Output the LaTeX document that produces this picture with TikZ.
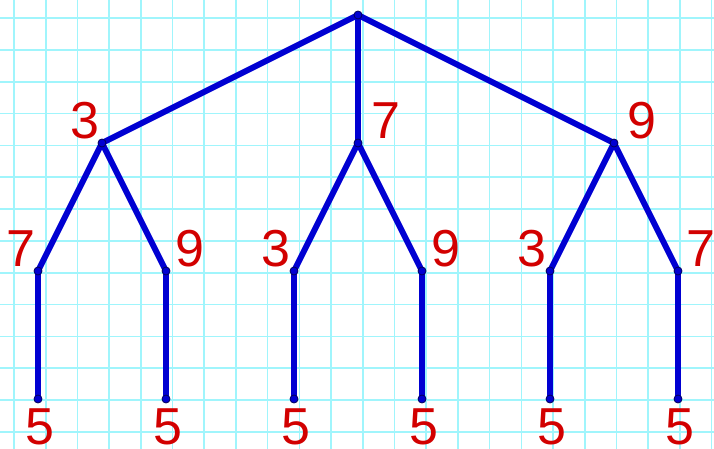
\documentclass[tikz,border=0pt]{standalone}
\usepackage{fontspec}
\setmainfont{Liberation Sans}
\usetikzlibrary{positioning}
\definecolor{gridcyan}{RGB}{160,245,252}
\definecolor{treeblue}{RGB}{0,0,210}
\definecolor{dotrim}{RGB}{0,0,90}
\definecolor{numred}{RGB}{210,0,0}
\pgfdeclarelayer{bg}
\pgfsetlayers{bg,main}

\begin{document}
\begin{tikzpicture}[x=1pt, y=-1pt,
    dot/.style={circle, fill=treeblue, draw=dotrim, line width=0.8pt,
      minimum size=8pt, inner sep=0pt},
    edge/.style={treeblue, line width=6pt, line cap=round},
    num/.style={text=numred, font=\fontsize{52}{60}\selectfont,
      anchor=base, inner sep=0pt},
  ]
  \useasboundingbox (0,0) rectangle (714,449);

  % Grid
  \begin{pgfonlayer}{bg}
    \fill[white] (0,0) rectangle (714,449);
    \foreach \i in {0,...,22} {
      \draw[gridcyan, line width=1.6pt] ({14+31.71*\i},0) -- ({14+31.71*\i},449);
    }
    \foreach \j in {0,...,13} {
      \draw[gridcyan, line width=1.6pt] (0,{18.3+31.8*\j}) -- (714,{18.3+31.8*\j});
    }
  \end{pgfonlayer}

  % Tree
  \node[dot] (root) at (358,15) {};
  \node[dot] (a) at (102,143) {};
  \node[dot] (b) at (358,143) {};
  \node[dot] (c) at (614,143) {};
  \foreach \x [count=\k] in {38,166,294,422,550,678} {
    \node[dot] (m\k) at (\x,271) {};
    \node[dot] (l\k) at (\x,399) {};
  }

  \begin{pgfonlayer}{bg}
    \foreach \u/\v in {root/a, root/b, root/c, a/m1, a/m2, b/m3, b/m4, c/m5, c/m6} {
      \draw[edge] (\u.center) -- (\v.center);
    }
    \foreach \k in {1,...,6} {
      \draw[edge] (m\k.center) -- (l\k.center);
    }
  \end{pgfonlayer}

  % Numbers
  \node[num] (ta) at (85,139) {3};
  \node[num] (tb) at (386,139) {7};
  \node[num] (tc) at (642,139) {9};

  \foreach \x/\d [count=\k] in {21/7, 190/9, 276/3, 446/9, 532/3, 701/7} {
    \node[num] (tm\k) at (\x,266) {\d};
  }
  \foreach \x [count=\k] in {40,168,296,424,552,680} {
    \node[num] (tl\k) at (\x,444) {5};
  }

\end{tikzpicture}
\end{document}
